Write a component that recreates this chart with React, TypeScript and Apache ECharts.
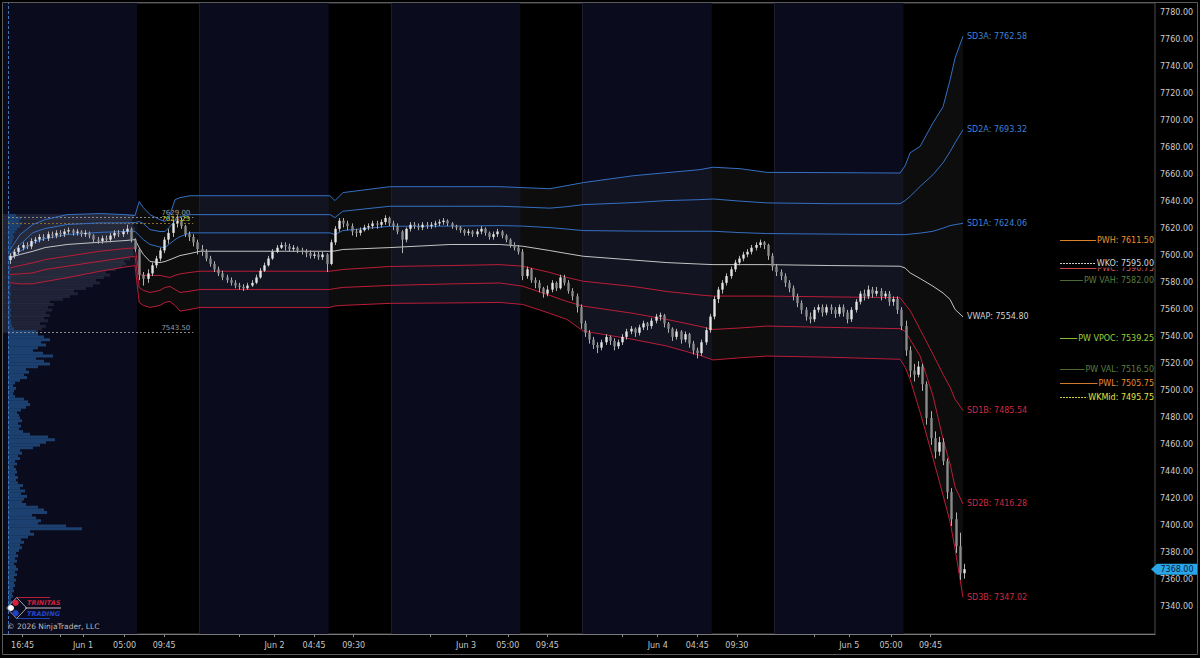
import React, { useEffect, useRef } from "react";
import * as echarts from "echarts";

// ---------- DATA ----------
// 30-minute bars, 46 bars per session (15:00 -> 14:00), 5 sessions
const sessionStarts = [0, 46, 92, 138, 184];
const rthOffset = 31; // 06:30 bar inside a session
const firstOpen = 7597;

const closeS0 = [7600,7603,7606,7608,7607,7611,7612,7614,7613,7616,7615,7617,7616,7618,7619,7617,7618,7616,7617,7615,7612,7611,7613,7612,7615,7617,7616,7618,7620,7612,7605,7586,7583,7587,7593,7598,7604,7612,7617,7624,7626,7622,7616,7614,7610,7605];
const highS0 = [7602,7605,7608,7610,7610,7613,7614,7616,7616,7618,7618,7619,7619,7620,7621,7620,7620,7619,7619,7618,7616,7614,7615,7615,7617,7619,7619,7620,7623,7621,7613,7606,7588,7590,7595,7600,7606,7614,7620,7627,7630,7628,7623,7618,7616,7612];
const lowS0 = [7594,7598,7601,7604,7605,7605,7609,7610,7611,7611,7613,7613,7614,7614,7616,7615,7615,7614,7614,7613,7610,7609,7609,7610,7610,7613,7614,7614,7616,7610,7603,7582,7578,7580,7585,7591,7596,7602,7609,7614,7621,7620,7614,7611,7607,7601];

const closeS1 = [7603,7598,7594,7590,7587,7584,7582,7580,7578,7577,7576,7578,7580,7584,7589,7593,7598,7603,7606,7608,7607,7605,7606,7604,7603,7602,7600,7601,7599,7601,7594,7610,7620,7626,7624,7622,7618,7617,7619,7621,7622,7624,7623,7625,7628,7624];
const highS1 = [7608,7605,7600,7596,7592,7589,7586,7584,7582,7580,7579,7580,7582,7586,7591,7595,7600,7605,7608,7610,7610,7609,7608,7607,7606,7605,7604,7603,7603,7603,7602,7612,7622,7628,7628,7626,7624,7620,7621,7623,7624,7626,7626,7627,7630,7629];
const lowS1 = [7600,7596,7592,7588,7585,7582,7580,7578,7576,7575,7574,7575,7577,7579,7583,7588,7592,7597,7602,7605,7604,7603,7603,7602,7601,7599,7598,7598,7597,7597,7588,7593,7608,7618,7621,7619,7615,7614,7615,7618,7619,7620,7620,7621,7623,7622];

const closeS2 = [7622,7618,7612,7620,7623,7622,7621,7623,7622,7623,7624,7625,7626,7624,7622,7621,7619,7617,7618,7616,7618,7620,7617,7614,7616,7618,7615,7612,7608,7606,7603,7585,7590,7582,7580,7576,7572,7575,7580,7576,7584,7580,7574,7570,7562,7550];
const highS2 = [7626,7624,7619,7621,7625,7625,7624,7625,7625,7625,7626,7627,7628,7627,7625,7623,7622,7620,7620,7619,7620,7622,7621,7618,7618,7620,7619,7616,7613,7610,7608,7605,7592,7591,7584,7582,7577,7578,7582,7581,7586,7586,7582,7576,7572,7564];
const lowS2 = [7619,7616,7602,7610,7618,7620,7619,7619,7620,7620,7621,7622,7623,7622,7620,7619,7617,7615,7615,7614,7614,7616,7615,7612,7612,7614,7613,7610,7606,7604,7601,7582,7583,7580,7576,7573,7569,7570,7573,7574,7575,7578,7572,7567,7558,7546];

const closeS3 = [7543,7538,7534,7532,7536,7540,7537,7533,7536,7540,7544,7546,7543,7547,7550,7548,7552,7555,7556,7550,7546,7540,7544,7538,7542,7535,7530,7528,7536,7545,7555,7568,7575,7580,7585,7590,7595,7598,7601,7603,7606,7608,7610,7608,7600,7592];
const highS3 = [7552,7545,7540,7536,7538,7542,7541,7539,7538,7542,7546,7548,7547,7549,7552,7551,7554,7557,7558,7557,7551,7547,7546,7545,7544,7543,7537,7532,7538,7547,7557,7570,7577,7582,7587,7592,7597,7600,7603,7605,7608,7610,7612,7611,7609,7602];
const lowS3 = [7540,7535,7531,7528,7530,7534,7534,7530,7531,7534,7538,7542,7540,7541,7545,7545,7546,7550,7552,7547,7543,7537,7538,7535,7536,7532,7527,7524,7526,7534,7543,7553,7565,7572,7578,7583,7588,7593,7596,7599,7601,7604,7606,7605,7597,7589];

const closeS4 = [7588,7585,7580,7576,7570,7565,7560,7555,7553,7560,7562,7558,7562,7560,7557,7562,7558,7553,7560,7566,7572,7570,7575,7572,7574,7570,7572,7566,7568,7560,7548,7530,7515,7512,7518,7505,7480,7465,7455,7462,7448,7425,7405,7385,7365,7368];
const highS4 = [7594,7590,7587,7582,7578,7572,7567,7562,7558,7562,7564,7564,7564,7564,7562,7564,7564,7560,7562,7568,7574,7575,7578,7577,7577,7576,7574,7574,7570,7570,7562,7552,7533,7520,7522,7520,7507,7485,7470,7466,7465,7450,7428,7410,7395,7372];
const lowS4 = [7585,7582,7577,7573,7567,7562,7557,7552,7550,7551,7558,7555,7556,7557,7554,7555,7555,7550,7551,7558,7564,7567,7568,7569,7570,7567,7568,7563,7563,7557,7545,7526,7510,7507,7510,7500,7475,7460,7450,7452,7445,7420,7400,7380,7360,7361];

// Weekly VWAP & deviation bands, sampled at bar positions
const bandV = [0.5,2.9,6,8.9,14.2,22.1,28.1,30.5,31.5,32.5,34.1,36.5,37.7,38.9,40.1,41.3,43.7,46.1,60.5,77.3,78.5,80.4,91.7,106.1,118.1,123.6,130.1,134.2,138.1,150.1,158.2,166.1,169.3,175.8,182.2,197.4,214.2,215.4,216.6,219,222.1,224.5,226.2,227.4,229.3];
const sd3a = [7604.7,7615.7,7623.2,7626.8,7630.5,7631.3,7630.5,7629.8,7640.2,7635.7,7630.5,7626.8,7625.4,7630.5,7641.6,7643.1,7644.5,7644.5,7644.5,7644.5,7640.9,7646.8,7651.2,7651.2,7651.2,7650.5,7649.7,7652.0,7654.2,7659.3,7661.6,7663.8,7665.6,7664.5,7661.8,7661.6,7661.3,7666.7,7676.3,7681.0,7698.5,7710.3,7730.3,7746.5,7762.58];
const sd2a = [7601.0,7608.4,7617.2,7620.2,7623.2,7624.4,7624.4,7624.6,7625.4,7623.9,7619.4,7618.0,7618.0,7621.7,7626.1,7629.1,7630.5,7630.5,7630.5,7630.5,7628.3,7633.0,7636.7,7636.7,7636.7,7636.1,7635.3,7636.4,7637.9,7639.4,7640.9,7641.6,7642.1,7640.5,7639.2,7638.6,7638.6,7640.9,7644.0,7651.4,7660.1,7668.9,7677.1,7683.7,7693.32];
const sd1a = [7597.2,7603.2,7609.6,7612.8,7615.7,7617.4,7618.0,7618.2,7615.0,7612.0,7608.4,7606.5,7606.1,7609.1,7612.0,7614.2,7617.0,7617.0,7617.0,7617.0,7615.7,7618.7,7621.9,7622.0,7622.4,7622.0,7620.9,7619.8,7618.7,7618.3,7618.2,7618.2,7618.2,7617.2,7616.5,7616.1,7615.7,7615.7,7616.1,7616.8,7618.2,7620.5,7622.4,7623.1,7624.06];
const vwap = [7598.7,7601.0,7603.4,7606.1,7608.4,7610.1,7611.3,7612.0,7606.1,7601.0,7595.8,7595.0,7595.8,7597.2,7598.7,7600.2,7601.7,7603.4,7603.4,7603.4,7603.6,7604.7,7606.1,7608.4,7608.4,7607.1,7603.9,7601.7,7599.7,7596.9,7595.0,7593.9,7593.5,7593.5,7593.5,7592.8,7592.3,7591.0,7587.4,7583.2,7577.5,7572.5,7567.7,7560.3,7554.8];
const sd1b = [7591.1,7592.8,7594.8,7597.2,7599.7,7603.4,7605.4,7605.9,7586.2,7585.5,7585.5,7585.5,7584.7,7584.0,7585.5,7586.6,7587.7,7588.6,7588.6,7588.6,7589.1,7589.9,7592.1,7592.8,7593.5,7592.3,7587.7,7584.0,7581.2,7577.3,7573.6,7571.0,7570.2,7570.2,7570.2,7569.6,7569.0,7564.0,7559.6,7545.5,7527.1,7512.3,7502.7,7493.8,7485.54];
const sd2b = [7586.2,7586.6,7587.4,7589.9,7592.3,7596.0,7598.7,7599.7,7576.6,7574.4,7572.9,7574.4,7576.6,7577.3,7575.1,7572.9,7573.8,7575.1,7575.1,7575.1,7575.8,7576.6,7578.1,7579.2,7579.9,7577.5,7570.7,7566.2,7562.8,7557.4,7552.9,7547.8,7545.5,7546.6,7548.0,7547.0,7546.1,7544.1,7538.1,7525.8,7496.3,7464.3,7445.8,7428.8,7416.28];
const sd3b = [7580.1,7579.2,7579.3,7581.0,7583.8,7588.6,7591.7,7592.8,7565.5,7563.3,7561.8,7563.3,7565.5,7566.2,7563.3,7559.1,7560.3,7561.8,7561.8,7561.8,7562.9,7563.3,7564.8,7565.1,7565.5,7564.0,7557.4,7552.9,7544.3,7538.1,7533.2,7526.3,7522.9,7524.5,7525.8,7524.9,7523.4,7517.5,7508.6,7484.2,7450.2,7422.8,7402.9,7382.9,7347.02];

// Volume profiles (volume per 2-point price level)
const blueProfileStart = 7340;
const blueProfile = [
  2,3,4,3,5,4,6,5,7,6,
  8,6,9,7,10,8,6,9,7,10,
  8,11,14,12,16,13,20,26,22,74,
  58,30,33,28,24,39,36,30,18,14,
  16,19,13,17,12,15,10,8,10,7,
  9,8,6,9,7,12,10,14,12,25,
  32,38,47,40,22,15,11,13,10,14,
  12,11,9,13,18,22,20,16,7,5,
  6,8,5,7,12,19,16,21,18,30,
  42,36,28,45,35,25,30,38,33,42,
  36,30,28,6,4,3,3,2,3,2,
  3,2,2,3,2,2,3,2,2,3,
  2,2,3,2,2,3,2,2,3,2,
  3,2,3,4,3,4,5,6,5,7,
  9,12,14,11,13,8,
];
const grayProfileStart = 7544;
const grayProfile = [30,34,38,32,40,36,42,38,44,40,46,42,55,62,70,66,78,85,92,88,96,102,98,108,114,118,116,122,125,126,125,127,126,125,127,126,125,126,127,125,126,124,125,126];

// Key levels
const levelNames = ["PWH", "PWC", "WKO", "PW VAH", "PW VPOC", "PW VAL", "PWL", "WKMid"];
const levelPrices = [7611.5, 7590.75, 7595.0, 7582.0, 7539.25, 7516.5, 7505.75, 7495.75];
const sessionLevelPrices = [7629.0, 7624.25, 7543.5];
const lastPrice = 7368.0;

// Time axis labels (bar positions)
const xLabelPos = [3.5, 18, 28, 37.5, 64, 73.5, 83, 110, 120, 129.5, 156, 165.5, 175, 202, 212, 221.5];
const xLabelText = ["16:45", "Jun 1", "05:00", "09:45", "Jun 2", "04:45", "09:30", "Jun 3", "05:00", "09:45", "Jun 4", "04:45", "09:30", "Jun 5", "05:00", "09:45"];
const xExtraTicks = [12.5, 55.5, 101.5, 147.5, 193.5];

// ---------- STYLES ----------
const FONT = '"DejaVu Sans", Verdana, sans-serif';
const NAVY = "#0a0b1c";
const BLUE = "#3570c2";
const RED = "#b91d37";
const levelStyle: Record<string, { line: string; text: string; dash?: number[]; w: number }> = {
  PWH: { line: "#d9822b", text: "#ee9030", w: 1 },
  PWC: { line: "#c8484a", text: "#d25656", w: 1 },
  WKO: { line: "#d0d0d0", text: "#d6d6d6", dash: [2, 1], w: 1 },
  "PW VAH": { line: "#4c6a34", text: "#5d7d3f", w: 1 },
  "PW VPOC": { line: "#86bd35", text: "#9bd23e", w: 1 },
  "PW VAL": { line: "#4c6a34", text: "#5d7d3f", w: 1 },
  PWL: { line: "#cf7a2e", text: "#e98c32", w: 1 },
  WKMid: { line: "#d2d23a", text: "#e2e245", dash: [2, 1], w: 1 },
};
const sessionLevelStyle = [
  { line: "#8a8a8a", text: "#9c9c9c" },
  { line: "#8c6c2c", text: "#d8cc2a" },
  { line: "#8a8a8a", text: "#9c9c9c" },
];

function buildOption() {
  const closes = [...closeS0, ...closeS1, ...closeS2, ...closeS3, ...closeS4];
  const highs = [...highS0, ...highS1, ...highS2, ...highS3, ...highS4];
  const lows = [...lowS0, ...lowS1, ...lowS2, ...lowS3, ...lowS4];
  const candles = closes.map((c, i) => [i + 0.5, i === 0 ? firstOpen : closes[i - 1], c, lows[i], highs[i]]);

  const bands = [
    { name: "SD3A", data: sd3a, color: BLUE, label: "#3c80d8" },
    { name: "SD2A", data: sd2a, color: BLUE, label: "#3c80d8" },
    { name: "SD1A", data: sd1a, color: BLUE, label: "#3c80d8" },
    { name: "VWAP", data: vwap, color: "#c4c4c4", label: "#d0d0d0" },
    { name: "SD1B", data: sd1b, color: RED, label: "#cc2a44" },
    { name: "SD2B", data: sd2b, color: RED, label: "#cc2a44" },
    { name: "SD3B", data: sd3b, color: RED, label: "#cc2a44" },
  ];

  const xMin = -1.2;
  const xMax = 275.4;

  const bandSeries = bands.map((b, bi) => {
    const last = b.data[b.data.length - 1];
    const s: any = {
      type: "line",
      name: b.name,
      silent: true,
      z: 6,
      showSymbol: false,
      symbol: "none",
      data: bandV.map((v, i) => [v, b.data[i]]),
      lineStyle: { color: b.color, width: 1 },
      endLabel: {
        show: true,
        formatter: () => `${b.name}: ${last.toFixed(2)}`,
        color: b.label,
        fontSize: 8,
        fontFamily: FONT,
        distance: 4,
      },
    };
    if (bi === 3) {
      s.markLine = {
        silent: true,
        symbol: ["none", "none"],
        label: { show: false },
        data: [
          { xAxis: 0, lineStyle: { color: "#3d74b8", type: [3, 2], width: 1 } },
          ...sessionStarts.slice(1).map((st) => ({ xAxis: st, lineStyle: { color: "#1c1d2b", type: "solid", width: 1 } })),
        ],
      };
    }
    return s;
  });

  return {
    animation: false,
    backgroundColor: "#000000",
    grid: { left: 3, right: 45, top: 3, bottom: 24, show: true, borderColor: "#4c4c4c", borderWidth: 1, backgroundColor: "transparent" },
    xAxis: [
      {
        type: "value",
        min: xMin,
        max: xMax,
        position: "bottom",
        splitLine: { show: false },
        axisLine: { show: true, lineStyle: { color: "#7a7a7a" } },
        axisTick: { show: true, length: 3, customValues: [...xLabelPos, ...xExtraTicks], lineStyle: { color: "#8a8a8a" } },
        axisLabel: {
          customValues: xLabelPos,
          color: "#c6c6c6",
          fontSize: 8,
          fontFamily: FONT,
          margin: 7,
          formatter: (val: number) => {
            const k = xLabelPos.findIndex((p) => Math.abs(p - val) < 1e-6);
            return k >= 0 ? xLabelText[k] : "";
          },
        },
      },
      { type: "value", min: -5, max: 1147, show: false, gridIndex: 0 },
    ],
    yAxis: {
      type: "value",
      position: "right",
      min: 7320,
      max: 7787.2,
      interval: 20,
      splitLine: { show: false },
      axisLine: { show: true, lineStyle: { color: "#7a7a7a" } },
      axisTick: { show: true, length: 3, lineStyle: { color: "#7a7a7a" } },
      axisLabel: {
        color: "#cdcdcd",
        fontSize: 8,
        fontFamily: FONT,
        margin: 5,
        showMinLabel: false,
        showMaxLabel: false,
        formatter: (v: number) => v.toFixed(2),
      },
    },
    graphic: [
      { type: "rect", z: 100, silent: true, shape: { x: 2.5, y: 2.5, width: 1195, height: 652 }, style: { fill: "none", stroke: "#5a5a5a", lineWidth: 1 } },
      { type: "text", z: 100, silent: true, x: 7, y: 626.5, style: { text: "© 2026 NinjaTrader, LLC", fill: "#bdbdbd", font: `7.5px ${FONT}`, verticalAlign: "middle" } },
      {
        type: "group",
        z: 100,
        silent: true,
        children: [
          { type: "line", z: 100, shape: { x1: 17, y1: 597.5, x2: 50, y2: 597.5 }, style: { stroke: "#b81c36", lineWidth: 1 } },
          { type: "line", z: 100, shape: { x1: 25, y1: 608, x2: 61, y2: 608 }, style: { stroke: "#c8b8c0", lineWidth: 1 } },
          { type: "line", z: 100, shape: { x1: 17, y1: 618.5, x2: 50, y2: 618.5 }, style: { stroke: "#2443b8", lineWidth: 1 } },
          { type: "polygon", z: 100, shape: { points: [[6.7, 608], [16.7, 597.5], [26.7, 608], [16.7, 618.5]] }, style: { fill: "none", stroke: "#c8c8c8", lineWidth: 0.8 } },
          { type: "circle", z: 101, shape: { cx: 15.6, cy: 602.7, r: 3.2 }, style: { fill: "#d2203c" } },
          { type: "circle", z: 101, shape: { cx: 15.6, cy: 613.3, r: 3.2 }, style: { fill: "#2140c4" } },
          { type: "circle", z: 101, shape: { cx: 11, cy: 608, r: 3 }, style: { fill: "#ffffff" } },
          { type: "text", z: 101, x: 27, y: 603, style: { text: "TRINITAS", fill: "#d0203a", font: `italic bold 6.5px ${FONT}`, verticalAlign: "middle" } },
          { type: "text", z: 101, x: 27, y: 613.5, style: { text: "TRADING", fill: "#2446cc", font: `italic bold 6.5px ${FONT}`, verticalAlign: "middle" } },
        ],
      },
    ],
    series: [
      // session backgrounds (overnight = navy)
      {
        type: "custom",
        silent: true,
        z: 1,
        data: sessionStarts.map((s) => [s, s + rthOffset]),
        renderItem: (params: any, api: any) => {
          const cs = params.coordSys;
          const s = api.value(0);
          const e = api.value(1);
          const a = s === 0 ? cs.x : api.coord([s, 7500])[0];
          const b = api.coord([e, 7500])[0];
          return { type: "rect", shape: { x: a, y: cs.y, width: b - a, height: cs.height }, style: { fill: NAVY } };
        },
      },
      // band fill between SD3A and SD3B
      {
        type: "custom",
        silent: true,
        z: 2,
        data: [[0, 7600]],
        renderItem: (_params: any, api: any) => {
          const pts: number[][] = [];
          for (let i = 0; i < bandV.length; i++) pts.push(api.coord([bandV[i], sd3a[i]]));
          for (let i = bandV.length - 1; i >= 0; i--) pts.push(api.coord([bandV[i], sd3b[i]]));
          return { type: "polygon", shape: { points: pts }, style: { fill: "rgba(44,44,46,0.3)" } };
        },
      },
      // gray developing profile
      {
        type: "custom",
        silent: true,
        z: 3,
        xAxisIndex: 1,
        data: grayProfile.map((v, i) => [v, grayProfileStart + 2 * i]),
        renderItem: (_params: any, api: any) => {
          const p1 = api.coord([0, api.value(1) + 1]);
          const p2 = api.coord([api.value(0), api.value(1) - 1]);
          return { type: "rect", shape: { x: p1[0] - 5, y: p1[1], width: p2[0] - p1[0] + 5, height: p2[1] - p1[1] + 0.3 }, style: { fill: "rgba(78,84,108,0.32)" } };
        },
      },
      // blue volume profile
      {
        type: "custom",
        silent: true,
        z: 4,
        xAxisIndex: 1,
        data: blueProfile.map((v, i) => [v, blueProfileStart + 2 * i]),
        renderItem: (_params: any, api: any) => {
          const p1 = api.coord([0, api.value(1) + 1]);
          const p2 = api.coord([api.value(0), api.value(1) - 1]);
          return { type: "rect", shape: { x: p1[0], y: p1[1], width: p2[0] - p1[0], height: p2[1] - p1[1] + 0.3 }, style: { fill: "#1c406f" } };
        },
      },
      // session (overnight) levels on the left
      {
        type: "custom",
        silent: true,
        z: 5,
        data: sessionLevelPrices.map((p, i) => [0, p, i]),
        renderItem: (_params: any, api: any) => {
          const p = api.value(1);
          const i = api.value(2);
          const st = sessionLevelStyle[i];
          const a = api.coord([0, p]);
          const b = api.coord([44.5, p]);
          const y = Math.round(a[1]) + 0.5;
          return {
            type: "group",
            children: [
              { type: "line", shape: { x1: a[0], y1: y, x2: b[0], y2: y }, style: { stroke: st.line, lineWidth: 1, lineDash: [2, 2] } },
              { type: "text", x: b[0] - 3, y: y - 1, style: { text: p.toFixed(2), fill: st.text, font: `7px ${FONT}`, align: "right", verticalAlign: "bottom" } },
            ],
          };
        },
      },
      ...bandSeries,
      // candles
      {
        type: "custom",
        silent: true,
        z: 7,
        data: candles,
        renderItem: (_params: any, api: any) => {
          const v = api.value(0);
          const o = api.value(1);
          const c = api.value(2);
          const l = Math.min(api.value(3), o, c);
          const h = Math.max(api.value(4), o, c);
          const top = api.coord([v, h]);
          const bot = api.coord([v, l]);
          const po = api.coord([v, o]);
          const pc = api.coord([v, c]);
          const xc = Math.round(top[0]) + 0.5;
          const up = c >= o;
          const y1 = Math.min(po[1], pc[1]);
          const hh = Math.max(1, Math.abs(po[1] - pc[1]));
          return {
            type: "group",
            children: [
              { type: "line", shape: { x1: xc, y1: top[1], x2: xc, y2: bot[1] }, style: { stroke: "#b2b2b2", lineWidth: 1 } },
              { type: "rect", shape: { x: xc - 1.2, y: y1, width: 2.4, height: hh }, style: { fill: up ? "#e4e4e4" : "#8a8a8a" } },
            ],
          };
        },
      },
      // key levels on the right
      {
        type: "custom",
        silent: true,
        z: 8,
        data: levelPrices.map((p, i) => [252.6, p, i]),
        renderItem: (params: any, api: any) => {
          const cs = params.coordSys;
          const right = cs.x + cs.width;
          const p = api.value(1);
          const name = levelNames[api.value(2)];
          const st = levelStyle[name];
          const a = api.coord([api.value(0), p]);
          const y = Math.round(a[1]) + 0.5;
          return {
            type: "group",
            children: [
              { type: "line", shape: { x1: a[0], y1: y, x2: right - 2, y2: y }, style: { stroke: st.line, lineWidth: st.w, lineDash: st.dash || null } },
              { type: "text", x: right - 1, y: y, style: { text: `${name}: ${p.toFixed(2)}`, fill: st.text, font: `8px ${FONT}`, align: "right", verticalAlign: "middle", backgroundColor: "#000000", padding: [0, 0, 0, 1] } },
            ],
          };
        },
      },
      // last price tag
      {
        type: "custom",
        silent: true,
        z: 9,
        data: [[xMax, lastPrice]],
        renderItem: (params: any, api: any) => {
          const cs = params.coordSys;
          const right = cs.x + cs.width;
          const p = api.value(1);
          const y = api.coord([0, p])[1];
          return {
            type: "group",
            children: [
              { type: "polygon", shape: { points: [[right - 4, y], [right + 2, y - 5.5], [right + 42, y - 5.5], [right + 42, y + 5.5], [right + 2, y + 5.5]] }, style: { fill: "#2aa6e8" } },
              { type: "text", x: right + 22, y: y, style: { text: p.toFixed(2), fill: "#05203f", font: `8px ${FONT}`, align: "center", verticalAlign: "middle" } },
            ],
          };
        },
      },
    ],
  };
}

export default function App() {
  const ref = useRef<HTMLDivElement>(null);
  useEffect(() => {
    document.body.style.margin = "0";
    document.body.style.background = "#000";
    if (!ref.current) return;
    const chart = echarts.init(ref.current, null, { renderer: "svg" });
    chart.setOption(buildOption() as any);
    return () => chart.dispose();
  }, []);
  return <div ref={ref} style={{ width: 1200, height: 658, position: "absolute", left: 0, top: 0 }} />;
}
